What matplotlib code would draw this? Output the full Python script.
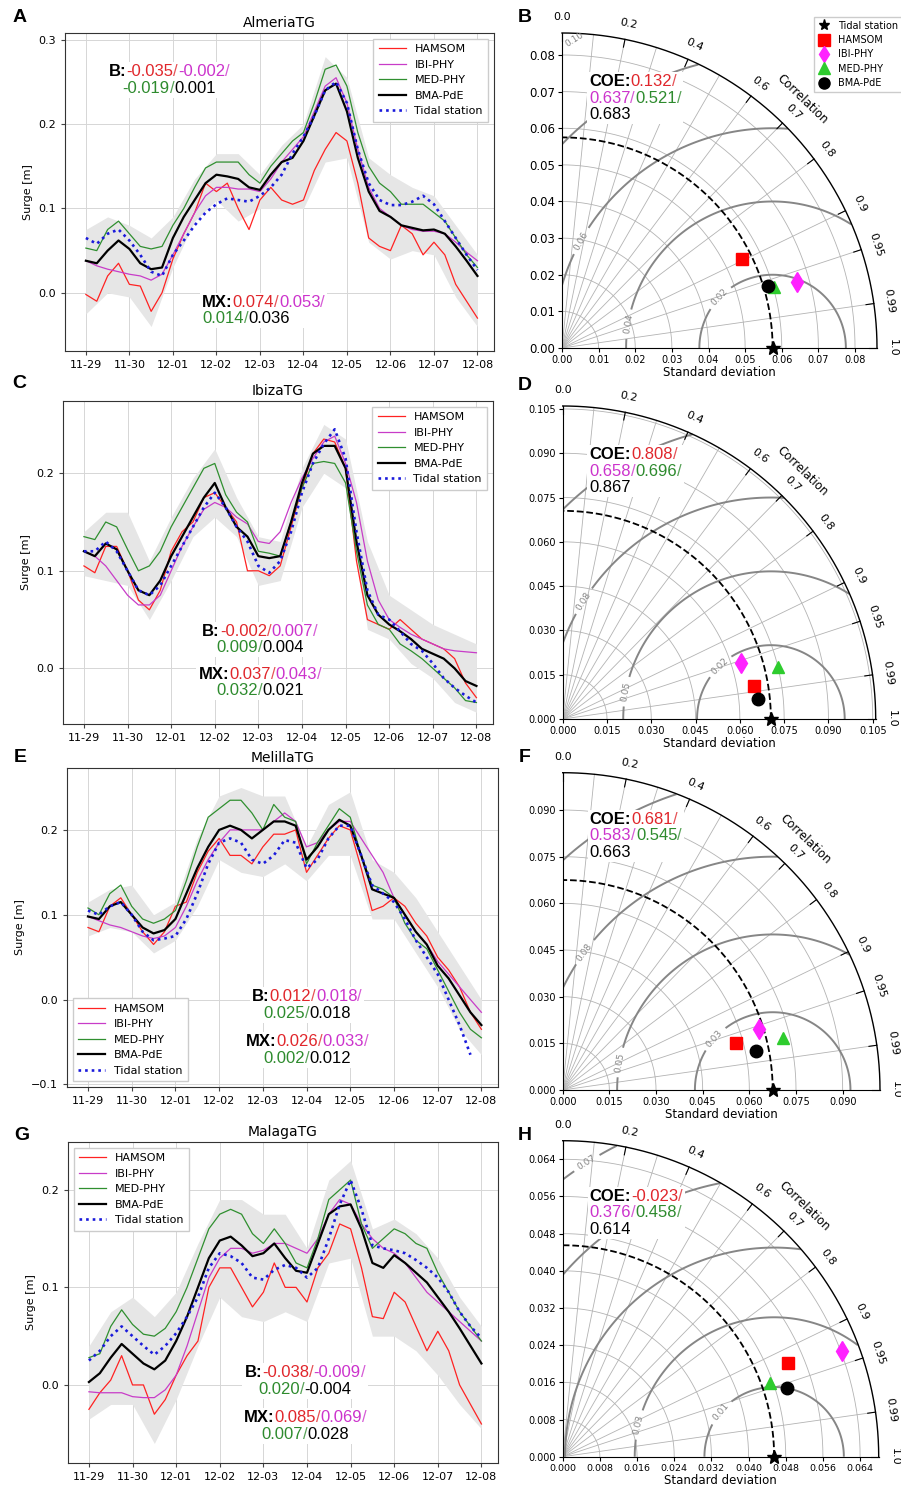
import numpy as np
import matplotlib
matplotlib.use("Agg")
import matplotlib.pyplot as plt
from matplotlib.lines import Line2D
from matplotlib.offsetbox import TextArea, HPacker, VPacker, AnchoredOffsetbox

nan = float("nan")

# time axis: 6-hourly samples from 11-29 to 12-08, grey band every 12 h
day_labels = ["11-29", "11-30", "12-01", "12-02", "12-03",
              "12-04", "12-05", "12-06", "12-07", "12-08"]
days = np.arange(37) / 4
band_days = np.arange(19) / 2

stations = ["AlmeriaTG", "IbizaTG", "MelillaTG", "MalagaTG"]
model_names = ["HAMSOM", "IBI-PHY", "MED-PHY", "BMA-PdE"]

# Almeria
ham_alm = [-0.002, -0.010, 0.020, 0.035, 0.010, 0.008, -0.022, 0.000, 0.040, 0.070, 0.095, 0.130,
           0.120, 0.130, 0.100, 0.075, 0.110, 0.125, 0.110, 0.105, 0.110, 0.145, 0.170, 0.190,
           0.180, 0.130, 0.065, 0.055, 0.050, 0.080, 0.070, 0.045, 0.060, 0.045, 0.010, -0.010, -0.030]
ibi_alm = [0.038, 0.032, 0.028, 0.025, 0.022, 0.020, 0.015, 0.022, 0.045, 0.070, 0.095, 0.115,
           0.125, 0.125, 0.123, 0.123, 0.120, 0.135, 0.155, 0.170, 0.185, 0.215, 0.245, 0.255,
           0.225, 0.170, 0.125, 0.100, 0.090, 0.080, 0.075, 0.073, 0.073, 0.070, 0.060, 0.048, 0.038]
med_alm = [0.053, 0.050, 0.075, 0.085, 0.070, 0.055, 0.052, 0.055, 0.080, 0.100, 0.125, 0.148,
           0.155, 0.155, 0.155, 0.140, 0.130, 0.150, 0.165, 0.180, 0.190, 0.225, 0.265, 0.270,
           0.245, 0.190, 0.150, 0.130, 0.120, 0.105, 0.105, 0.105, 0.095, 0.085, 0.065, 0.045, 0.030]
bma_alm = [0.038, 0.035, 0.050, 0.062, 0.052, 0.035, 0.028, 0.030, 0.065, 0.090, 0.110, 0.130,
           0.140, 0.138, 0.135, 0.125, 0.122, 0.140, 0.155, 0.160, 0.180, 0.210, 0.240, 0.248,
           0.215, 0.160, 0.120, 0.097, 0.090, 0.080, 0.077, 0.074, 0.075, 0.070, 0.055, 0.038, 0.020]
tide_alm = [0.065, 0.058, 0.070, 0.075, 0.062, 0.045, 0.025, 0.020, 0.045, 0.062, 0.080, 0.095,
            0.105, 0.112, 0.110, 0.108, 0.115, 0.125, 0.140, 0.165, 0.185, 0.210, 0.240, 0.250,
            0.225, 0.170, 0.130, 0.110, 0.104, 0.104, 0.108, 0.115, 0.105, 0.085, 0.065, 0.045, 0.027]
lo_alm = [-0.025, 0.000, -0.005, -0.040, 0.030, 0.085, 0.110, 0.085, 0.100, 0.100,
          0.100, 0.155, 0.160, 0.060, 0.040, 0.050, 0.045, -0.005, -0.040]
hi_alm = [0.075, 0.090, 0.080, 0.065, 0.090, 0.135, 0.165, 0.165, 0.140, 0.175,
          0.200, 0.280, 0.255, 0.160, 0.140, 0.125, 0.115, 0.080, 0.045]

# Ibiza
ham_ibz = [0.105, 0.098, 0.125, 0.125, 0.100, 0.070, 0.060, 0.080, 0.120, 0.140, 0.150, 0.175,
           0.180, 0.165, 0.150, 0.100, 0.100, 0.095, 0.105, 0.145, 0.185, 0.220, 0.235, 0.232,
           0.205, 0.110, 0.050, 0.045, 0.040, 0.050, 0.040, 0.030, 0.025, 0.020, 0.010, -0.015, -0.030]
ibi_ibz = [0.120, 0.115, 0.105, 0.090, 0.075, 0.065, 0.065, 0.075, 0.100, 0.125, 0.145, 0.163,
           0.170, 0.165, 0.155, 0.148, 0.130, 0.128, 0.140, 0.170, 0.195, 0.215, 0.232, 0.238,
           0.210, 0.170, 0.110, 0.070, 0.050, 0.042, 0.035, 0.030, 0.025, 0.020, 0.018, 0.017, 0.016]
med_ibz = [0.135, 0.132, 0.150, 0.145, 0.122, 0.100, 0.105, 0.120, 0.145, 0.165, 0.185, 0.205,
           0.210, 0.178, 0.160, 0.150, 0.120, 0.118, 0.115, 0.150, 0.185, 0.210, 0.212, 0.210,
           0.190, 0.120, 0.065, 0.045, 0.040, 0.025, 0.018, 0.010, 0.000, -0.010, -0.020, -0.033, -0.035]
bma_ibz = [0.120, 0.115, 0.128, 0.122, 0.100, 0.080, 0.075, 0.090, 0.115, 0.135, 0.155, 0.175,
           0.190, 0.165, 0.145, 0.135, 0.115, 0.113, 0.115, 0.150, 0.190, 0.220, 0.228, 0.228,
           0.205, 0.130, 0.075, 0.055, 0.045, 0.038, 0.030, 0.020, 0.015, 0.010, 0.000, -0.013, -0.018]
tide_ibz = [0.120, 0.120, 0.130, 0.120, 0.100, 0.080, 0.075, 0.085, 0.105, 0.125, 0.145, 0.165,
            0.180, 0.165, 0.145, 0.130, 0.105, 0.098, 0.110, 0.140, 0.180, 0.210, 0.230, 0.245,
            0.215, 0.140, 0.080, 0.055, 0.050, 0.038, 0.025, 0.018, 0.005, -0.010, -0.020, -0.028, -0.035]
lo_ibz = [0.095, 0.090, 0.085, 0.050, 0.090, 0.135, 0.155, 0.135, 0.085, 0.090,
          0.165, 0.200, 0.185, 0.040, 0.030, 0.005, -0.010, -0.035, -0.045]
hi_ibz = [0.140, 0.160, 0.160, 0.110, 0.155, 0.195, 0.225, 0.175, 0.135, 0.130,
          0.205, 0.250, 0.235, 0.130, 0.075, 0.060, 0.045, 0.035, 0.025]

# Melilla
ham_mel = [0.085, 0.080, 0.110, 0.120, 0.100, 0.080, 0.065, 0.080, 0.110, 0.115, 0.150, 0.175,
           0.190, 0.170, 0.170, 0.160, 0.180, 0.195, 0.195, 0.200, 0.150, 0.170, 0.190, 0.205,
           0.200, 0.155, 0.105, 0.110, 0.120, 0.110, 0.090, 0.075, 0.050, 0.035, 0.015, -0.015, -0.035]
ibi_mel = [0.098, 0.093, 0.088, 0.085, 0.080, 0.075, 0.072, 0.075, 0.085, 0.110, 0.140, 0.165,
           0.185, 0.200, 0.200, 0.200, 0.200, 0.210, 0.220, 0.210, 0.180, 0.185, 0.200, 0.210,
           0.210, 0.190, 0.170, 0.150, 0.120, 0.100, 0.080, 0.065, 0.045, 0.030, 0.015, 0.000, -0.015]
med_mel = [0.108, 0.100, 0.125, 0.135, 0.110, 0.095, 0.090, 0.095, 0.105, 0.140, 0.180, 0.215,
           0.225, 0.235, 0.235, 0.220, 0.200, 0.230, 0.215, 0.210, 0.160, 0.185, 0.205, 0.225,
           0.215, 0.170, 0.135, 0.130, 0.120, 0.090, 0.070, 0.060, 0.035, 0.010, -0.015, -0.035, -0.045]
bma_mel = [0.098, 0.095, 0.110, 0.115, 0.100, 0.085, 0.078, 0.082, 0.095, 0.125, 0.155, 0.180,
           0.200, 0.205, 0.200, 0.190, 0.200, 0.210, 0.210, 0.205, 0.165, 0.180, 0.200, 0.212,
           0.205, 0.170, 0.130, 0.125, 0.120, 0.100, 0.080, 0.065, 0.040, 0.025, 0.005, -0.015, -0.030]
tide_mel = [0.105, 0.100, 0.110, 0.115, 0.100, 0.080, 0.070, 0.072, 0.075, 0.095, 0.125, 0.160,
            0.185, 0.190, 0.185, 0.165, 0.160, 0.170, 0.188, 0.185, 0.155, 0.165, 0.190, 0.205,
            0.205, 0.170, 0.135, 0.125, 0.115, 0.095, 0.070, 0.050, 0.030, 0.000, -0.030, -0.065, nan]
lo_mel = [0.075, 0.085, 0.080, 0.055, 0.070, 0.110, 0.165, 0.150, 0.145, 0.160,
          0.140, 0.170, 0.170, 0.095, 0.095, 0.055, 0.015, -0.035, -0.065]
hi_mel = [0.115, 0.130, 0.135, 0.100, 0.115, 0.190, 0.240, 0.250, 0.240, 0.240,
          0.180, 0.230, 0.245, 0.165, 0.150, 0.120, 0.080, 0.040, 0.000]

# Malaga
ham_mal = [-0.025, -0.008, 0.005, 0.030, 0.000, 0.000, -0.030, -0.015, 0.010, 0.030, 0.045, 0.100,
           0.120, 0.120, 0.100, 0.080, 0.095, 0.125, 0.100, 0.100, 0.085, 0.120, 0.135, 0.165,
           0.160, 0.120, 0.070, 0.068, 0.095, 0.085, 0.060, 0.035, 0.055, 0.035, 0.000, -0.020, -0.040]
ibi_mal = [-0.007, -0.008, -0.008, -0.008, -0.012, -0.013, -0.013, -0.005, 0.010, 0.040, 0.075, 0.110,
           0.130, 0.140, 0.140, 0.135, 0.138, 0.145, 0.145, 0.140, 0.135, 0.150, 0.175, 0.190,
           0.185, 0.165, 0.150, 0.140, 0.135, 0.125, 0.110, 0.095, 0.085, 0.075, 0.065, 0.055, 0.045]
med_mal = [0.028, 0.032, 0.060, 0.077, 0.062, 0.052, 0.050, 0.058, 0.075, 0.100, 0.130, 0.160,
           0.175, 0.180, 0.175, 0.155, 0.145, 0.160, 0.145, 0.125, 0.120, 0.150, 0.190, 0.200,
           0.210, 0.165, 0.140, 0.150, 0.160, 0.155, 0.145, 0.140, 0.115, 0.095, 0.075, 0.060, 0.045]
bma_mal = [0.003, 0.012, 0.028, 0.042, 0.032, 0.022, 0.016, 0.025, 0.045, 0.070, 0.100, 0.130,
           0.148, 0.152, 0.143, 0.132, 0.135, 0.145, 0.130, 0.117, 0.115, 0.145, 0.175, 0.183,
           0.185, 0.160, 0.125, 0.120, 0.133, 0.125, 0.115, 0.105, 0.090, 0.075, 0.058, 0.040, 0.022]
tide_mal = [0.025, 0.035, 0.050, 0.060, 0.050, 0.040, 0.031, 0.040, 0.053, 0.070, 0.090, 0.120,
            0.135, 0.132, 0.125, 0.110, 0.108, 0.118, 0.123, 0.120, 0.110, 0.120, 0.150, 0.185,
            0.210, 0.180, 0.143, 0.140, 0.138, 0.135, 0.128, 0.120, 0.110, 0.095, 0.075, 0.060, 0.048]
lo_mal = [-0.035, -0.020, -0.020, -0.060, -0.015, 0.040, 0.090, 0.070, 0.065, 0.075,
          0.065, 0.125, 0.130, 0.050, 0.050, 0.035, 0.010, -0.020, -0.045]
hi_mal = [0.040, 0.075, 0.090, 0.070, 0.095, 0.145, 0.190, 0.190, 0.175, 0.175,
          0.140, 0.210, 0.230, 0.160, 0.170, 0.155, 0.130, 0.090, 0.060]

# scores written on the panels (HAMSOM / IBI-PHY / MED-PHY / BMA-PdE)
bias_vals = [[-0.035, -0.002, -0.019, 0.001], [-0.002, 0.007, 0.009, 0.004],
             [0.012, 0.018, 0.025, 0.018], [-0.038, -0.009, 0.020, -0.004]]
mx_vals = [[0.074, 0.053, 0.014, 0.036], [0.037, 0.043, 0.032, 0.021],
           [0.026, 0.033, 0.002, 0.012], [0.085, 0.069, 0.007, 0.028]]
coe_vals = [[0.132, 0.637, 0.521, 0.683], [0.808, 0.658, 0.696, 0.867],
            [0.681, 0.583, 0.545, 0.663], [-0.023, 0.376, 0.458, 0.614]]

# Taylor diagram statistics
ref_std = [0.0575, 0.0705, 0.0675, 0.0455]
std_ham = [0.0549, 0.0657, 0.0577, 0.0526]
std_ibi = [0.0665, 0.0634, 0.0662, 0.0643]
std_med = [0.0602, 0.0749, 0.0729, 0.0474]
std_bma = [0.0588, 0.0664, 0.0634, 0.0506]
cor_ham = [0.896, 0.985, 0.965, 0.923]
cor_ibi = [0.963, 0.954, 0.955, 0.935]
cor_med = [0.961, 0.972, 0.973, 0.942]
cor_bma = [0.957, 0.995, 0.980, 0.956]

corr_ticks = [0.0, 0.2, 0.4, 0.6, 0.7, 0.8, 0.9, 0.95, 0.99, 1.0]
corr_tick_labels = ["0.0", "0.2", "0.4", "0.6", "0.7", "0.8", "0.9", "0.95", "0.99", "1.0"]
corr_grid = [0.1, 0.2, 0.3, 0.4, 0.5, 0.6, 0.7, 0.8, 0.9, 0.95, 0.99]

line_colors = ["#ff2222", "#c83cc8", "#2f8f2f", "black"]
text_colors = ["#e0262b", "#cc33cc", "#2e8b2e", "black"]
marker_colors = ["red", "#ff22ff", "#2ecc2e", "black"]
marker_styles = ["s", "d", "^", "o"]

FIG_W, FIG_H = 901, 1491
TXT_FONT = "Liberation Sans"


def px_box(l, t, r, b):
    return [l / FIG_W, 1 - b / FIG_H, (r - l) / FIG_W, (b - t) / FIG_H]


def stat_block(ax, head, vals, rows, xy, loc="upper center", align="center", fs=12):
    """Multi-coloured score text on a white patch."""
    lines = []
    for k, idx in enumerate(rows):
        parts = []
        if k == 0:
            parts.append(TextArea(head, textprops=dict(color="black", fontsize=fs,
                                                       fontweight="bold", family=TXT_FONT)))
        for i in idx:
            parts.append(TextArea(f"{vals[i]:.3f}", textprops=dict(color=text_colors[i], fontsize=fs,
                                                                    family=TXT_FONT)))
            if i < len(vals) - 1:
                parts.append(TextArea("/", textprops=dict(color=text_colors[i], fontsize=fs,
                                                          family=TXT_FONT, alpha=0.8)))
        lines.append(HPacker(children=parts, align="baseline", pad=0, sep=0))
    box = VPacker(children=lines, align=align, pad=0, sep=1)
    anc = AnchoredOffsetbox(loc=loc, child=box, pad=0.15, borderpad=0, frameon=True,
                            bbox_to_anchor=xy, bbox_transform=ax.transAxes)
    anc.patch.set_facecolor("white")
    anc.patch.set_edgecolor("none")
    anc.set_zorder(3)
    ax.add_artist(anc)


def series_panel(ax, title, series, tide, lo, hi, ylim, yticks, leg_loc):
    ax.fill_between(band_days, lo, hi, color="#e6e6e6", lw=0, zorder=1)
    for vals, name, col in zip(series, model_names, line_colors):
        ax.plot(days, vals, color=col, lw=1.6 if name == "BMA-PdE" else 0.9, label=name, zorder=2)
    ax.plot(days, tide, color="#1a1adb", lw=1.9, ls=(0, (1, 1.5)), label="Tidal station", zorder=2.5)
    ax.set_xlim(-0.48, 9.38)
    ax.set_ylim(*ylim)
    ax.set_xticks(range(10))
    ax.set_xticklabels(day_labels)
    ax.set_yticks(yticks)
    ax.tick_params(labelsize=8, length=3, color="#444444")
    ax.grid(True, color="#d6d6d6", lw=0.7)
    ax.set_axisbelow(True)
    for sp in ax.spines.values():
        sp.set_color("#333333")
    ax.set_ylabel("Surge [m]", fontsize=8)
    ax.set_title(title, fontsize=10, pad=4)
    ax.legend(loc=leg_loc, fontsize=8, fancybox=False, edgecolor="#cccccc", framealpha=1,
              handlelength=2.4, labelspacing=0.5, borderpad=0.5)


def taylor_panel(ax, k, smax, step, fmt, levels, level_txt, label_levels, label_pos,
                 coe_xy, xfs, yfs, legend=False):
    ref = ref_std[k]
    ax.set_xlim(0, smax)
    ax.set_ylim(0, smax)
    ax.set_aspect("equal", anchor="SW")
    for s in ["top", "right"]:
        ax.spines[s].set_visible(False)
    ticks = np.arange(0, smax + 1e-9, step)
    ax.set_xticks(ticks)
    ax.set_yticks(ticks)
    ax.set_xticklabels([fmt.format(t) for t in ticks], fontsize=xfs)
    ax.set_yticklabels([fmt.format(t) for t in ticks], fontsize=yfs)
    ax.tick_params(length=3, pad=2)
    ax.set_xlabel("Standard deviation", fontsize=8.5, labelpad=1)

    arc = np.linspace(0, np.pi / 2, 300)
    for t in ticks[1:]:
        if t < smax * 0.995:
            ax.plot(t * np.cos(arc), t * np.sin(arc), color="#b3b3b3", lw=0.6, zorder=1)
    for c in corr_grid:
        th = np.arccos(c)
        ax.plot([0, smax * np.cos(th)], [0, smax * np.sin(th)], color="#b3b3b3", lw=0.6, zorder=1)

    # centred RMS difference contours
    g = np.linspace(0, smax, 500)
    X, Y = np.meshgrid(g, g)
    Z = np.ma.masked_where(np.hypot(X, Y) > smax, np.hypot(X - ref, Y))
    plain = [lv for lv in levels if lv not in label_levels]
    if plain:
        ax.contour(X, Y, Z, levels=plain, colors="#868686", linewidths=1.4, zorder=2)
    cs = ax.contour(X, Y, Z, levels=label_levels, colors="#868686", linewidths=1.4, zorder=2)
    ax.clabel(cs, fmt=dict(zip(levels, level_txt)), fontsize=6.5, inline=True, manual=label_pos)

    # outer correlation axis
    ax.plot(smax * np.cos(arc), smax * np.sin(arc), color="black", lw=1.0, clip_on=False, zorder=3)
    for c, s in zip(corr_ticks, corr_tick_labels):
        th = np.arccos(c)
        ax.plot([0.975 * smax * np.cos(th), smax * np.cos(th)],
                [0.975 * smax * np.sin(th), smax * np.sin(th)], color="black", lw=0.8, clip_on=False)
        ax.text(1.05 * smax * np.cos(th), 1.05 * smax * np.sin(th), s, rotation=np.degrees(th) - 90,
                ha="center", va="center", rotation_mode="anchor", fontsize=8)
    th = np.radians(46)
    ax.text(1.1 * smax * np.cos(th), 1.1 * smax * np.sin(th), "Correlation", rotation=-44,
            ha="center", va="center", rotation_mode="anchor", fontsize=8.5)

    # reference arc and point
    ax.plot(ref * np.cos(arc), ref * np.sin(arc), color="black", ls="--", lw=1.3, zorder=3)
    ax.plot(ref, 0, "*", color="black", ms=10, clip_on=False, zorder=6)

    stds = [std_ham[k], std_ibi[k], std_med[k], std_bma[k]]
    cors = [cor_ham[k], cor_ibi[k], cor_med[k], cor_bma[k]]
    for sd, cr, col, mk in zip(stds, cors, marker_colors, marker_styles):
        th = np.arccos(cr)
        ax.plot(sd * np.cos(th), sd * np.sin(th), mk, color=col, ms=10 if mk == "d" else 9, zorder=5)

    stat_block(ax, "COE:", coe_vals[k], [[0], [1, 2], [3]], coe_xy, loc="upper left", align="left")

    if legend:
        handles = [Line2D([], [], ls="none", marker="*", color="black", ms=8, label="Tidal station")]
        for name, col, mk in zip(model_names, marker_colors, marker_styles):
            handles.append(Line2D([], [], ls="none", marker=mk, color=col, ms=8, label=name))
        ax.legend(handles=handles, loc="upper left", bbox_to_anchor=(0.786, 1.067), fontsize=7,
                  fancybox=False, edgecolor="#cccccc", framealpha=1, numpoints=1,
                  handlelength=1.2, labelspacing=0.45, borderpad=0.4)


fig = plt.figure(figsize=(FIG_W / 100, FIG_H / 100), dpi=100)

ax_a = fig.add_axes(px_box(65, 33, 494, 351))
ax_c = fig.add_axes(px_box(63, 401, 493, 724))
ax_e = fig.add_axes(px_box(67, 768, 498, 1087))
ax_g = fig.add_axes(px_box(68, 1142, 498, 1463))

series_panel(ax_a, stations[0], [ham_alm, ibi_alm, med_alm, bma_alm], tide_alm, lo_alm, hi_alm,
             (-0.069, 0.308), [0.0, 0.1, 0.2, 0.3], "upper right")
series_panel(ax_c, stations[1], [ham_ibz, ibi_ibz, med_ibz, bma_ibz], tide_ibz, lo_ibz, hi_ibz,
             (-0.057, 0.274), [0.0, 0.1, 0.2], "upper right")
series_panel(ax_e, stations[2], [ham_mel, ibi_mel, med_mel, bma_mel], tide_mel, lo_mel, hi_mel,
             (-0.103, 0.273), [-0.1, 0.0, 0.1, 0.2], "lower left")
series_panel(ax_g, stations[3], [ham_mal, ibi_mal, med_mal, bma_mal], tide_mal, lo_mal, hi_mal,
             (-0.080, 0.249), [0.0, 0.1, 0.2], "upper left")

stat_block(ax_a, "B:", bias_vals[0], [[0, 1], [2, 3]], (0.243, 0.908))
stat_block(ax_a, "MX:", mx_vals[0], [[0, 1], [2, 3]], (0.315, 0.183), loc="upper left", align="left")
stat_block(ax_c, "B:", bias_vals[1], [[0, 1], [2, 3]], (0.458, 0.317))
stat_block(ax_c, "MX:", mx_vals[1], [[0, 1], [2, 3]], (0.458, 0.183))
stat_block(ax_e, "B:", bias_vals[2], [[0, 1], [2, 3]], (0.557, 0.313))
stat_block(ax_e, "MX:", mx_vals[2], [[0, 1], [2, 3]], (0.557, 0.172))
stat_block(ax_g, "B:", bias_vals[3], [[0, 1], [2, 3]], (0.551, 0.311))
stat_block(ax_g, "MX:", mx_vals[3], [[0, 1], [2, 3]], (0.551, 0.171))

ax_b = fig.add_axes(px_box(562, 33, 880, 348))
ax_d = fig.add_axes(px_box(562.7, 406, 878, 719))
ax_f = fig.add_axes(px_box(562.7, 772.7, 881, 1090))
ax_h = fig.add_axes(px_box(562.7, 1140.7, 880, 1456.7))

taylor_panel(ax_b, 0, 0.086, 0.01, "{:.2f}", [0.02, 0.04, 0.06, 0.08, 0.10],
             ["0.02", "0.04", "0.06", "0.08", "0.10"], [0.02, 0.04, 0.06, 0.10],
             [(0.0427, 0.0142), (0.0187, 0.0064), (0.0044, 0.0297), (0.0036, 0.0838)],
             (0.079, 0.876), 7, 8.5, legend=True)
taylor_panel(ax_d, 1, 0.106, 0.015, "{:.3f}", [0.025, 0.05, 0.075, 0.1],
             ["0.02", "0.05", "0.08", "0.10"], [0.025, 0.05, 0.075],
             [(0.0529, 0.0183), (0.0213, 0.0093), (0.0058, 0.0408)],
             (0.079, 0.875), 7, 7)
taylor_panel(ax_f, 2, 0.102, 0.015, "{:.3f}", [0.025, 0.05, 0.075, 0.1],
             ["0.03", "0.05", "0.08", "0.10"], [0.025, 0.05, 0.075],
             [(0.0486, 0.0168), (0.0193, 0.0087), (0.0077, 0.0439)],
             (0.079, 0.883), 7, 7)
taylor_panel(ax_h, 3, 0.068, 0.008, "{:.3f}", [0.015, 0.03, 0.045, 0.06, 0.075],
             ["0.01", "0.03", "0.04", "0.06", "0.07"], [0.015, 0.03, 0.075],
             [(0.0338, 0.0098), (0.0161, 0.0069), (0.0048, 0.0638)],
             (0.079, 0.854), 6.8, 7)

# panel letters
for letter, (x, y) in zip("ABCDEFGH", [(20, 18), (525, 17), (19, 384), (525, 386),
                                        (20, 758), (525, 758), (22, 1135), (525, 1135)]):
    fig.text(x / FIG_W, 1 - y / FIG_H, letter, fontsize=14, fontweight="bold",
             family=TXT_FONT, ha="center", va="center")

fig.savefig("out.png", dpi=100)
